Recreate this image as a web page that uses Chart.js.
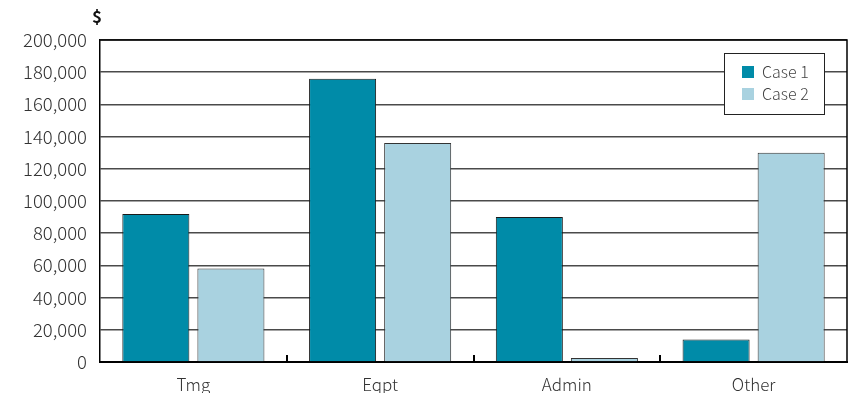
<!DOCTYPE html>
<html>
<head>
<meta charset="utf-8">
<script src="https://cdn.jsdelivr.net/npm/chart.js@4"></script>
<style>
  html, body { margin: 0; padding: 0; background: #fff; }
  #wrap { width: 848px; height: 393px; }
</style>
</head>
<body>
<div id="wrap"><canvas id="c" width="848" height="393"></canvas></div>
<script>
// データ
const categories = ['Tmg', 'Eqpt', 'Admin', 'Other'];
const case1 = [92000, 176000, 90000, 14000];
const case2 = [58000, 136000, 2500, 130000];
const seriesNames = ['Case 1', 'Case 2'];
const unitLabel = '$';

const FONT = "'Noto Sans CJK KR', 'DejaVu Sans', sans-serif";
const COL1 = '#008ba8';
const COL2 = '#a9d2e0';

// 枠線・目盛り・凡例・単位を描くプラグイン
const decorations = {
    id: 'decorations',
    afterDatasetsDraw(chart) {
        const ctx = chart.ctx;
        const a = chart.chartArea;
        const xs = chart.scales.x;
        ctx.save();
        // 上と右の枠
        ctx.strokeStyle = '#000';
        ctx.lineWidth = 1.5;
        ctx.beginPath();
        ctx.moveTo(a.left, a.top);
        ctx.lineTo(a.right, a.top);
        ctx.lineTo(a.right, a.bottom);
        ctx.stroke();
        // カテゴリ境界の短い目盛り（内向き）
        ctx.lineWidth = 2;
        for (let i = 1; i < categories.length; i++) {
            const x = Math.round((xs.getPixelForValue(i - 1) + xs.getPixelForValue(i)) / 2);
            ctx.beginPath();
            ctx.moveTo(x, a.bottom);
            ctx.lineTo(x, a.bottom - 7);
            ctx.stroke();
        }
        // 単位
        ctx.fillStyle = '#111';
        ctx.font = 'bold 17px ' + FONT;
        ctx.textAlign = 'center';
        ctx.textBaseline = 'middle';
        ctx.fillText(unitLabel, a.left - 3, 17);
        // 凡例
        const lx = 724, ly = 53, lw = 100, lh = 61;
        ctx.fillStyle = '#fff';
        ctx.fillRect(lx, ly, lw, lh);
        ctx.strokeStyle = '#222';
        ctx.lineWidth = 1;
        ctx.strokeRect(lx + 0.5, ly + 0.5, lw, lh);
        ctx.font = '300 16px ' + FONT;
        ctx.textAlign = 'left';
        chart.data.datasets.forEach((ds, i) => {
            const y = ly + 19 + i * 22;
            ctx.fillStyle = ds.backgroundColor;
            ctx.fillRect(lx + 18, y - 6, 12, 12);
            ctx.fillStyle = '#444';
            ctx.fillText(ds.label, lx + 38, y);
        });
        ctx.restore();
    }
};

new Chart(document.getElementById('c'), {
    type: 'bar',
    data: {
        labels: categories,
        datasets: [
            { label: seriesNames[0], data: case1, backgroundColor: COL1, borderColor: '#1a1a1a', borderWidth: 1 },
            { label: seriesNames[1], data: case2, backgroundColor: COL2, borderColor: '#333', borderWidth: 1 }
        ]
    },
    options: {
        responsive: false,
        animation: false,
        layout: { padding: { top: 40, right: 1, left: 0, bottom: 0 } },
        datasets: { bar: { barPercentage: 0.893, categoryPercentage: 0.804 } },
        plugins: { legend: { display: false }, tooltip: { enabled: false } },
        scales: {
            x: {
                grid: { display: false },
                border: { color: '#000', width: 2 },
                ticks: { color: '#333', font: { family: FONT, size: 17, weight: '300' }, padding: 4 },
                afterFit(s) { s.height = 31; }
            },
            y: {
                min: 0,
                max: 200000,
                grid: { color: '#4a4a4a', lineWidth: 1.5, drawTicks: false },
                border: { color: '#000', width: 1.5 },
                ticks: {
                    stepSize: 20000,
                    color: '#333',
                    padding: 13,
                    font: { family: FONT, size: 18.5, weight: '300' },
                    callback: v => v.toLocaleString('en-US')
                },
                afterFit(s) { s.width = 100; }
            }
        }
    },
    plugins: [decorations]
});
</script>
</body>
</html>
